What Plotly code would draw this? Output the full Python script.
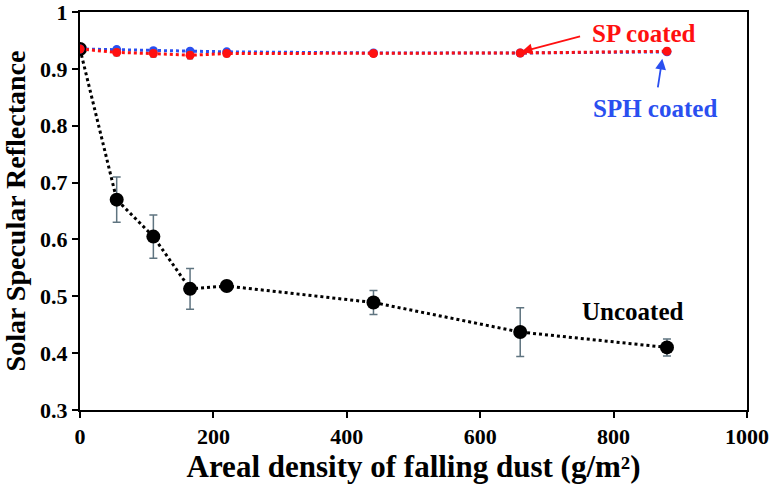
import plotly.graph_objects as go

density = [0, 55, 110, 165, 220, 440, 660, 880]
uncoated = [0.935, 0.670, 0.605, 0.513, 0.518, 0.489, 0.437, 0.410]
uncoated_err = [0.005, 0.040, 0.038, 0.036, 0.008, 0.021, 0.043, 0.015]
sp_coated = [0.935, 0.929, 0.927, 0.924, 0.927, 0.927, 0.928, 0.931]
sp_err = [0.004, 0.006, 0.006, 0.006, 0.005, 0.004, 0.004, 0.005]
sph_coated = [0.935, 0.934, 0.932, 0.931, 0.930, 0.928, 0.928, 0.930]
sph_err = [0.003, 0.004, 0.004, 0.004, 0.004, 0.003, 0.003, 0.004]
y_ticks = [0.3, 0.4, 0.5, 0.6, 0.7, 0.8, 0.9, 1.0]
y_tick_labels = ["0.3", "0.4", "0.5", "0.6", "0.7", "0.8", "0.9", "1"]

FONT = "Liberation Serif"
ERRC = "#5f7480"

fig = go.Figure()
fig.add_trace(go.Scatter(
    x=density, y=uncoated, mode="lines+markers",
    line=dict(color="black", dash="dot", width=3),
    marker=dict(color="black", size=14),
    error_y=dict(type="data", array=uncoated_err, color=ERRC, thickness=1.5, width=4),
    name="Uncoated"))
fig.add_trace(go.Scatter(
    x=density, y=sph_coated, mode="lines+markers",
    line=dict(color="#2a4ff0", dash="dot", width=3),
    marker=dict(color="#2a4ff0", size=9),
    error_y=dict(type="data", array=sph_err, color=ERRC, thickness=1.5, width=3),
    name="SPH coated"))
fig.add_trace(go.Scatter(
    x=density, y=sp_coated, mode="lines+markers",
    line=dict(color="#ff1010", dash="dot", width=3),
    marker=dict(color="#ff1010", size=9),
    error_y=dict(type="data", array=sp_err, color=ERRC, thickness=1.5, width=3),
    name="SP coated"))

annots = [
    dict(text="<b>SP coated</b>", x=846, y=0.963, color="#ff1010"),
    dict(text="<b>SPH coated</b>", x=862, y=0.830, color="#2a4ff0"),
    dict(text="<b>Uncoated</b>", x=828, y=0.473, color="black"),
]
for a in annots:
    fig.add_annotation(x=a["x"], y=a["y"], text=a["text"], showarrow=False,
                       font=dict(family=FONT, size=25, color=a["color"]))

fig.add_annotation(x=662, y=0.930, ax=752, ay=0.958, axref="x", ayref="y",
                   text="", showarrow=True, arrowhead=2, arrowsize=1.2,
                   arrowwidth=1.8, arrowcolor="#ff1010")
fig.add_annotation(x=873, y=0.918, ax=866, ay=0.865, axref="x", ayref="y",
                   text="", showarrow=True, arrowhead=2, arrowsize=1.2,
                   arrowwidth=1.8, arrowcolor="#2a4ff0")

fig.update_layout(
    width=771, height=489,
    margin=dict(l=80, r=24, t=12, b=79),
    plot_bgcolor="white", paper_bgcolor="white",
    showlegend=False,
    font=dict(family=FONT, color="black"),
)
fig.update_xaxes(range=[0, 1000], dtick=200, showline=True, linecolor="black",
                 linewidth=2, mirror=True, ticks="outside", ticklen=6, tickwidth=2,
                 tickcolor="black", showgrid=False, zeroline=False, automargin=False,
                 ticklabeloverflow="allow",
                 tickfont=dict(family=FONT, size=22, color="black", weight="bold"),
                 title=dict(text="<b>Areal density of falling dust (g/m²)</b>",
                            font=dict(family=FONT, size=31, color="black"), standoff=4))
fig.update_yaxes(range=[0.2999, 1.0001], tickmode="array", tickvals=y_ticks,
                 ticktext=y_tick_labels, showline=True, linecolor="black",
                 linewidth=2, mirror=True, ticks="outside", ticklen=6, tickwidth=2,
                 tickcolor="black", showgrid=False, zeroline=False, automargin=False,
                 ticklabeloverflow="allow",
                 tickfont=dict(family=FONT, size=22, color="black", weight="bold"),
                 title=dict(text="<b>Solar Specular Reflectance</b>",
                            font=dict(family=FONT, size=28, color="black"), standoff=6))

fig.write_html("out.html", config={"displayModeBar": False},
               post_script="document.body.style.margin='0';")
